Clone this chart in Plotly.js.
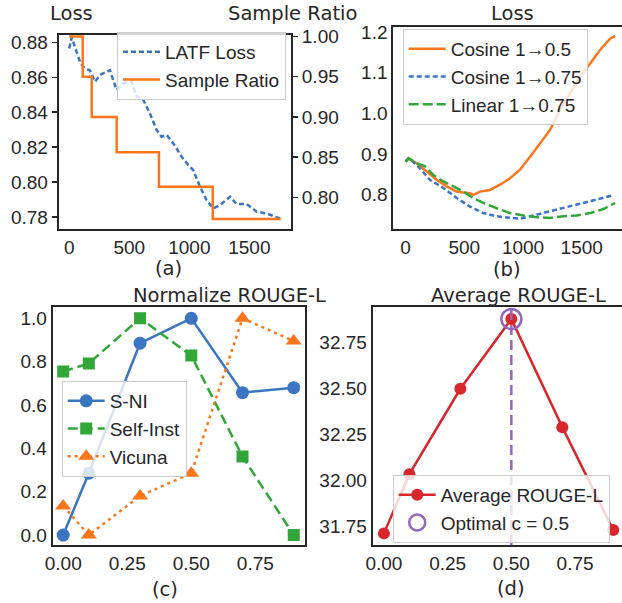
<!DOCTYPE html>
<html>
<head>
<meta charset="utf-8">
<script src="https://cdn.plot.ly/plotly-3.0.1.min.js"></script>
<style>
html,body{margin:0;padding:0;overflow:hidden;background:#fff;}
#chart{width:632px;height:603px;}
</style>
</head>
<body>
<div id="chart"></div>
<script>
// ---------- (a) LATF loss and sample ratio ----------
const latfStep = [0, 20, 56, 94, 131, 172, 214, 256, 339, 394, 450, 519, 561, 617, 672, 728, 769, 811, 867, 936, 992, 1033, 1089, 1144, 1200, 1256, 1339, 1394, 1478, 1561, 1644, 1714, 1756];
const latfLoss = [0.8765, 0.8829, 0.8756, 0.868, 0.865, 0.864, 0.8575, 0.8613, 0.8641, 0.8527, 0.8565, 0.8575, 0.8489, 0.847, 0.8393, 0.8298, 0.826, 0.827, 0.8221, 0.8145, 0.8097, 0.8068, 0.7973, 0.7896, 0.7849, 0.7868, 0.7916, 0.7874, 0.7874, 0.783, 0.782, 0.78, 0.7791];
const ratioStep = [0, 112, 187, 395, 747, 1195, 1762];
const sampleRatio = [1.0, 0.95, 0.90, 0.856, 0.813, 0.773, 0.773];

// ---------- (b) loss for schedules ----------
const cos05Step = [0, 25, 94, 179, 264, 349, 435, 491, 548, 577, 634, 719, 804, 889, 974, 1060, 1145, 1230, 1315, 1401, 1486, 1571, 1656, 1741, 1784];
const cos05Loss = [0.881, 0.889, 0.877, 0.857, 0.836, 0.820, 0.807, 0.805, 0.803, 0.799, 0.807, 0.811, 0.824, 0.840, 0.861, 0.893, 0.926, 0.959, 1.008, 1.049, 1.090, 1.123, 1.156, 1.184, 1.190];
const cos075Step = [0, 25, 94, 207, 321, 435, 548, 662, 776, 889, 974, 1060, 1173, 1287, 1401, 1514, 1628, 1756];
const cos075Loss = [0.881, 0.889, 0.873, 0.836, 0.816, 0.791, 0.770, 0.754, 0.746, 0.742, 0.740, 0.746, 0.754, 0.762, 0.770, 0.779, 0.787, 0.797];
const lin075Step = [0, 25, 94, 165, 236, 321, 406, 491, 577, 662, 776, 889, 1003, 1116, 1230, 1344, 1457, 1571, 1685, 1784];
const lin075Loss = [0.881, 0.889, 0.877, 0.869, 0.848, 0.832, 0.820, 0.807, 0.791, 0.779, 0.766, 0.754, 0.748, 0.744, 0.742, 0.746, 0.748, 0.754, 0.764, 0.779];

// ---------- (c) normalized ROUGE-L ----------
const cValues = [0, 0.1, 0.3, 0.5, 0.7, 0.9];
const sni = [0, 0.285, 0.885, 1.0, 0.657, 0.68];
const selfInst = [0.754, 0.792, 1.0, 0.828, 0.362, 0];
const vicuna = [0.134, 0, 0.18, 0.285, 1.0, 0.895];

// ---------- (d) average ROUGE-L ----------
const avgRouge = [31.714, 32.035, 32.498, 32.876, 32.29, 31.732];

// ---------- labels ----------
const panelLabels = ['(a)', '(b)', '(c)', '(d)'];
const titleTexts = ['Loss', 'Sample Ratio', 'Loss', 'Normalize ROUGE-L', 'Average ROUGE-L'];

const W = 632, H = 603;
const PX = x => x / W;
const PY = y => 1 - y / H;

const BLUE = '#3b75c2', ORANGE = '#fb761a', GREEN = '#33a639', RED = '#d9262d', PURPLE = '#9467bd';
const INK = '#262626';
const TICKFONT = {family: '"Liberation Sans", Arial, sans-serif', size: 19, color: INK};
const LEGFONT = {family: '"Liberation Sans", Arial, sans-serif', size: 19, color: INK};
const TITLEFONT = {family: '"DejaVu Sans", sans-serif', size: 19.5, color: INK};

function ax(extra) {
  return Object.assign({
    showline: true, mirror: true, linecolor: INK, linewidth: 2,
    showgrid: false, zeroline: false, ticks: '', tickfont: TICKFONT,
    automargin: false
  }, extra);
}

// optimal c from data
let best = 0;
avgRouge.forEach((v, i) => { if (v > avgRouge[best]) best = i; });
const optimalC = cValues[best];

const traces = [
  {x: latfStep, y: latfLoss, xaxis: 'x', yaxis: 'y', name: 'LATF Loss', mode: 'lines',
   line: {color: BLUE, width: 2.5, dash: '5px,3px'}, legend: 'legend'},
  {x: ratioStep, y: sampleRatio, xaxis: 'x', yaxis: 'y5', name: 'Sample Ratio', mode: 'lines',
   line: {color: ORANGE, width: 2.5, shape: 'hv'}, legend: 'legend'},

  {x: cos05Step, y: cos05Loss, xaxis: 'x2', yaxis: 'y2', name: 'Cosine 1→0.5', mode: 'lines',
   line: {color: ORANGE, width: 2.5}, legend: 'legend2'},
  {x: cos075Step, y: cos075Loss, xaxis: 'x2', yaxis: 'y2', name: 'Cosine 1→0.75', mode: 'lines',
   line: {color: BLUE, width: 2.5, dash: '5px,3px'}, legend: 'legend2'},
  {x: lin075Step, y: lin075Loss, xaxis: 'x2', yaxis: 'y2', name: 'Linear 1→0.75', mode: 'lines',
   line: {color: GREEN, width: 2.5, dash: '10px,4px'}, legend: 'legend2'},

  {x: cValues, y: sni, xaxis: 'x3', yaxis: 'y3', name: 'S-NI', mode: 'lines+markers',
   line: {color: BLUE, width: 2.5}, marker: {symbol: 'circle', size: 13, color: BLUE}, legend: 'legend3'},
  {x: cValues, y: selfInst, xaxis: 'x3', yaxis: 'y3', name: 'Self-Inst', mode: 'lines+markers',
   line: {color: GREEN, width: 2.5, dash: '10px,5px'}, marker: {symbol: 'square', size: 12, color: GREEN}, legend: 'legend3'},
  {x: cValues, y: vicuna, xaxis: 'x3', yaxis: 'y3', name: 'Vicuna', mode: 'lines+markers',
   line: {color: ORANGE, width: 2.5, dash: '3px,4px'}, marker: {symbol: 'triangle-up', size: 14, color: ORANGE}, legend: 'legend3'},

  {x: cValues, y: avgRouge, xaxis: 'x4', yaxis: 'y4', name: 'Average ROUGE-L', mode: 'lines+markers',
   line: {color: RED, width: 2.5}, marker: {symbol: 'circle', size: 12, color: RED}, legend: 'legend4'},
  {x: [optimalC], y: [avgRouge[best]], xaxis: 'x4', yaxis: 'y4', name: 'Optimal c = ' + optimalC, mode: 'markers',
   marker: {symbol: 'circle-open', size: 20, color: PURPLE, line: {width: 2.5, color: PURPLE}}, legend: 'legend4'}
];

const legBase = {bgcolor: 'rgba(255,255,255,0.8)', bordercolor: '#cccccc', borderwidth: 1,
  font: LEGFONT, tracegroupgap: 0, yanchor: 'top', itemwidth: 37};

const ann = (text, x, y, font) => ({text, x: PX(x), y: PY(y), xref: 'paper', yref: 'paper',
  showarrow: false, xanchor: 'center', yanchor: 'middle', font: font || TITLEFONT});

const layout = {
  width: W, height: H,
  margin: {l: 0, r: 0, t: 0, b: 0},
  paper_bgcolor: '#fff', plot_bgcolor: '#fff',
  showlegend: true,
  xaxis: ax({domain: [PX(58.7), PX(291)], range: [-88, 1847], tickvals: [0, 500, 1000, 1500], anchor: 'y'}),
  yaxis: ax({domain: [PY(229), PY(34.7)], range: [0.7731, 0.8844], dtick: 0.02, tick0: 0.78, tickformat: '.2f',
    ticks: 'outside', ticklen: 5, tickwidth: 1.5, tickcolor: INK, anchor: 'x'}),
  yaxis5: ax({overlaying: 'y', side: 'right', anchor: 'x', range: [0.7606, 1.0022], dtick: 0.05, tick0: 0.8, tickformat: '.2f',
    ticks: 'outside', ticklen: 5, tickwidth: 1.5, tickcolor: INK, mirror: false}),

  xaxis2: ax({domain: [PX(393.3), PX(626)], range: [-105, 1877], tickvals: [0, 500, 1000, 1500], anchor: 'y2'}),
  yaxis2: ax({domain: [PY(228.7), PY(27.3)], range: [0.7155, 1.212], dtick: 0.1, tick0: 0.8, tickformat: '.1f', anchor: 'x2'}),

  xaxis3: ax({domain: [PX(52.7), PX(305)], range: [-0.041, 0.944], tickvals: [0, 0.25, 0.5, 0.75], tickformat: '.2f', anchor: 'y3'}),
  yaxis3: ax({domain: [PY(545), PY(306.7)], range: [-0.046, 1.0535], dtick: 0.2, tick0: 0, tickformat: '.1f', anchor: 'x3'}),

  xaxis4: ax({domain: [PX(372.7), PX(624.5)], range: [-0.044, 0.944], tickvals: [0, 0.25, 0.5, 0.75], tickformat: '.2f', anchor: 'y4'}),
  yaxis4: ax({domain: [PY(545), PY(306.7)], range: [31.651, 32.943], dtick: 0.25, tick0: 31.75, tickformat: '.2f', anchor: 'x4'}),

  legend: Object.assign({}, legBase, {x: PX(286), y: PY(32), xanchor: 'right'}),
  legend2: Object.assign({}, legBase, {x: PX(402.7), y: PY(29), xanchor: 'left'}),
  legend3: Object.assign({}, legBase, {x: PX(61.7), y: PY(381), xanchor: 'left'}),
  legend4: Object.assign({}, legBase, {x: PX(392.7), y: PY(475), xanchor: 'left'}),

  shapes: [{type: 'line', xref: 'x4', yref: 'y4 domain', x0: optimalC, x1: optimalC, y0: 0, y1: 1,
    line: {color: PURPLE, width: 2.5, dash: '10px,5px'}, layer: 'above'}],

  annotations: [
    ann(titleTexts[0], 71, 13.5),
    ann(titleTexts[1], 292.7, 13.5),
    ann(titleTexts[2], 512, 13.5),
    ann(titleTexts[3], 229, 295.5),
    ann(titleTexts[4], 518, 295.5),
    ann(panelLabels[0], 168.3, 268),
    ann(panelLabels[1], 507.5, 269),
    ann(panelLabels[2], 165, 589),
    ann(panelLabels[3], 511, 588)
  ]
};

Plotly.newPlot('chart', traces, layout, {displayModeBar: false, staticPlot: true});
</script>
</body>
</html>
